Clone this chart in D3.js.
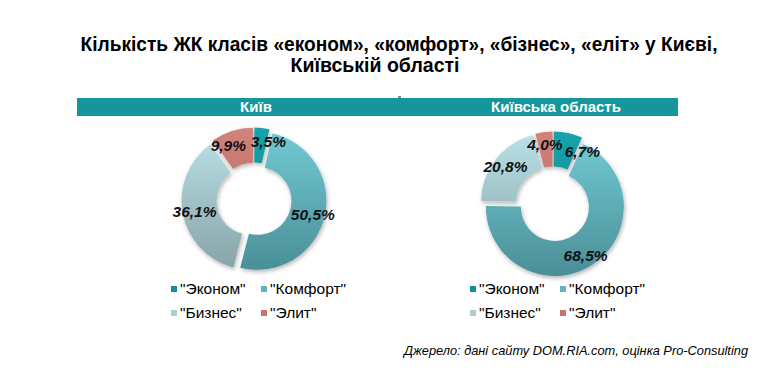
<!DOCTYPE html>
<html><head><meta charset="utf-8">
<script src="https://cdn.jsdelivr.net/npm/d3@7/dist/d3.min.js"></script>
<style>
html,body{margin:0;padding:0;background:#fff;}
svg{display:block;}
</style></head>
<body>
<svg id="chart" width="776" height="370"></svg>
<script>
// ---- data ----
const titleLines = ["Кількість ЖК класів «економ», «комфорт», «бізнес», «еліт» у Києві,", "Київській області"];
const panelTitles = ["Київ", "Київська область"];
const categories = ['"Эконом"', '"Комфорт"', '"Бизнес"', '"Элит"'];
const kyivValues = [3.5, 50.5, 36.1, 9.9];
const oblastValues = [6.7, 68.5, 20.8, 4.0];
const sourceText = "Джерело: дані сайту DOM.RIA.com, оцінка Pro-Consulting";

// ---- style ----
const gradTop = ["#17a3ab", "#72c9d3", "#b9e1e7", "#d3837b"];
const gradBot = ["#0b7f87", "#4a8f97", "#87a3a7", "#a65f59"];
const legendColors = ["#11909a", "#5fb4be", "#a9cfd4", "#c2746d"];
const panels = [
  {cx: 254, cy: 200, values: kyivValues, nudge: [7.4, 0, 0, -7.3], titleX: 256},
  {cx: 553, cy: 204, values: oblastValues, nudge: [17, 0, 0, -0.5], titleX: 556}
];
const R = 69, r = 34, explode = 3.5, labelR = 57;

const svg = d3.select("#chart");
const defs = svg.append("defs");
const f = defs.append("filter").attr("id", "shadow").attr("x", "-20%").attr("y", "-20%").attr("width", "140%").attr("height", "140%");
f.append("feDropShadow").attr("dx", 1).attr("dy", 2).attr("stdDeviation", 2).attr("flood-color", "#000").attr("flood-opacity", 0.3);

// title
const tf = "'Liberation Sans',Arial,sans-serif";
svg.append("text").attr("x", 399).attr("y", 51).attr("text-anchor", "middle")
  .attr("font-family", tf).attr("font-weight", "bold").attr("font-size", 20).attr("fill", "#000")
  .attr("textLength", 637).attr("lengthAdjust", "spacingAndGlyphs")
  .text(titleLines[0]);
svg.append("text").attr("x", 375).attr("y", 72).attr("text-anchor", "middle")
  .attr("font-family", tf).attr("font-weight", "bold").attr("font-size", 20).attr("fill", "#000")
  .attr("textLength", 169).attr("lengthAdjust", "spacingAndGlyphs")
  .text(titleLines[1]);

// banner
svg.append("rect").attr("x", 77).attr("y", 98).attr("width", 601).attr("height", 18).attr("fill", "#15969c");
svg.append("rect").attr("x", 398).attr("y", 96).attr("width", 3).attr("height", 2).attr("fill", "#888");

const pie = d3.pie().sort(null).value(d => d).startAngle(0).endAngle(2 * Math.PI);
const arc = d3.arc().innerRadius(r).outerRadius(R);
const fmt = v => d3.format(".1f")(v).replace(".", ",") + "%";
const ff = "'Liberation Sans',Arial,sans-serif";

panels.forEach((p, pi) => {
  svg.append("text").attr("x", p.titleX).attr("y", 112).attr("text-anchor", "middle")
    .attr("font-family", ff).attr("font-weight", "bold").attr("font-size", 15).attr("fill", "#fff")
    .text(panelTitles[pi]);

  categories.forEach((c, i) => {
    const g = defs.append("linearGradient").attr("id", `g${pi}_${i}`)
      .attr("gradientUnits", "userSpaceOnUse").attr("x1", 0).attr("x2", 0)
      .attr("y1", -R).attr("y2", R);
    g.append("stop").attr("offset", 0).attr("stop-color", gradTop[i]);
    g.append("stop").attr("offset", 1).attr("stop-color", gradBot[i]);
  });

  const arcs = pie(p.values);
  const gp = svg.append("g").attr("transform", `translate(${p.cx},${p.cy})`);
  gp.append("g").attr("filter", "url(#shadow)").selectAll("path").data(arcs).join("path")
    .attr("d", arc)
    .attr("transform", d => {
      const m = (d.startAngle + d.endAngle) / 2;
      return `translate(${Math.sin(m) * explode},${-Math.cos(m) * explode})`;
    })
    .attr("fill", (d, i) => `url(#g${pi}_${i})`);

  gp.selectAll("text.lbl").data(arcs).join("text").attr("class", "lbl")
    .attr("transform", (d, i) => {
      const m = (d.startAngle + d.endAngle) / 2 + p.nudge[i] * Math.PI / 180;
      const rr = labelR + explode;
      return `translate(${Math.sin(m) * rr},${-Math.cos(m) * rr})`;
    })
    .attr("text-anchor", "middle").attr("dy", "0.36em")
    .attr("font-family", ff).attr("font-weight", "bold").attr("font-style", "italic")
    .attr("font-size", 15.5).attr("fill", "#111")
    .text(d => fmt(d.value));

  // legend
  const lg = svg.append("g").attr("transform", `translate(${p.cx - 83},289)`);
  categories.forEach((c, i) => {
    const col = i % 2, row = Math.floor(i / 2);
    const it = lg.append("g").attr("transform", `translate(${col * 90},${row * 24})`);
    it.append("rect").attr("x", 0).attr("y", -3).attr("width", 6).attr("height", 6).attr("fill", legendColors[i]);
    it.append("text").attr("x", 9).attr("y", 0).attr("dy", "0.35em")
      .attr("font-family", ff).attr("font-size", 15.5).attr("fill", "#000").text(c);
  });
});

svg.append("text").attr("x", 748).attr("y", 355).attr("text-anchor", "end")
  .attr("font-family", ff).attr("font-style", "italic").attr("font-size", 12.8).attr("fill", "#000")
  .text(sourceText);
</script>
</body></html>
